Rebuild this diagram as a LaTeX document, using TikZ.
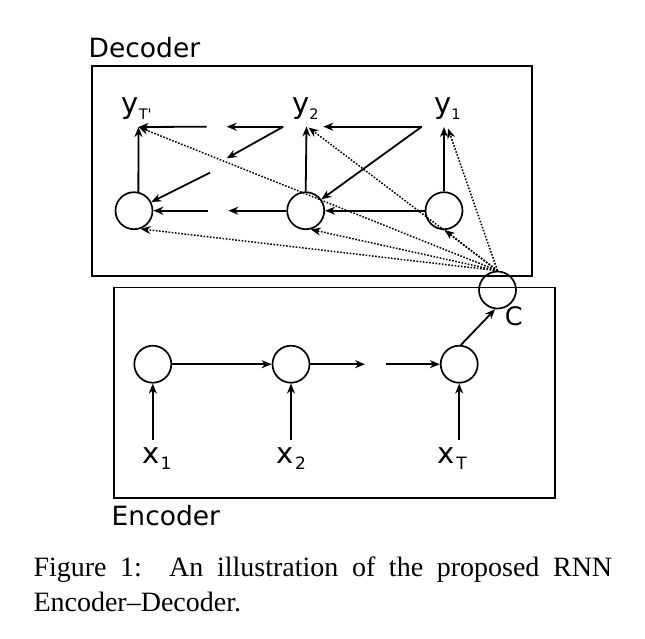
\documentclass[tikz,border=0pt]{standalone}
\usepackage{fontspec}
\setmainfont{Liberation Serif}
\newfontfamily\dv[Ligatures=TeXOff]{DejaVu Sans}
\usetikzlibrary{arrows.meta}
\newcommand\declab[2]{{\fontsize{29pt}{29pt}\selectfont #1}\raisebox{-5.5pt}{\fontsize{14.5pt}{14.5pt}\selectfont #2}}
\newcommand\enclab[2]{{\fontsize{29pt}{29pt}\selectfont #1}\kern1.5pt\raisebox{-5.7pt}{\fontsize{17pt}{17pt}\selectfont #2}}
\begin{document}
\begin{tikzpicture}[x=1pt,y=-1pt,
  cell/.style={circle,draw,line width=1.7pt,minimum size=37pt,inner sep=0pt},
  frame/.style={draw,line width=1.5pt},
  tip/.style={-{Stealth[length=10pt,width=8pt,inset=3.2pt]}},
  arr/.style={tip,line width=1.8pt},
  heavy/.style={tip,line width=2.4pt},
  att/.style={tip,line width=1.5pt,dash pattern=on 1.6pt off 1.6pt},
  lab/.style={inner sep=0pt,anchor=base west,font=\dv}]
\fill[white] (0,0) rectangle (645,638);
\useasboundingbox (0,0) rectangle (645,638);

% frames
\draw[frame] (92,66) rectangle (532,276);
\draw[frame] (114,287.5) rectangle (555,498);
\node[lab] (declbl) at (88.5,57.3) {\fontsize{26.5pt}{26.5pt}\selectfont Decoder};
\node[lab] (enclbl) at (111.5,525) {\fontsize{26.5pt}{26.5pt}\selectfont Encoder};

% cells
\node[cell] (hT) at (134,210.7) {};
\node[cell] (h2) at (305.7,210.7) {};
\node[cell] (h1) at (444,210.7) {};
\node[cell] (c) at (497.5,290) {};
\node[cell] (e1) at (152.8,364.2) {};
\node[cell] (e2) at (291,364.2) {};
\node[cell] (eT) at (459.2,364.2) {};

% labels
\node[lab] (cl) at (504.6,325.7) {\fontsize{25.5pt}{25.5pt}\selectfont C};
\node[lab] (yTl) at (121.5,113.5) {\declab{y}{T'}};
\node[lab] (y2l) at (292,113.5) {\declab{y}{2}};
\node[lab] (y1l) at (434,113.5) {\declab{y}{1}};
\node[lab] (x1l) at (141.8,463.3) {\enclab{x}{1}};
\node[lab] (x2l) at (276.2,463.3) {\enclab{x}{2}};
\node[lab] (xTl) at (437.4,463.3) {\enclab{x}{T}};

% arrow end points
\coordinate (yTa) at (138.5,127);
\coordinate (y2v) at (306.5,126.5);
\coordinate (y2h) at (323.3,126.7);
\coordinate (y2d) at (308.5,127.5);
\coordinate (y1v) at (444,127);
\coordinate (y1d) at (448,128.5);
\coordinate (y1s) at (421.7,126.7);
\coordinate (g1) at (283.3,126.7);
\coordinate (g2) at (226.7,126.7);
\coordinate (g3) at (226.7,158.3);
\coordinate (g4) at (206.7,126.7);
\coordinate (g5) at (210,172.7);
\coordinate (g6) at (228.3,210.7);
\coordinate (g7) at (208.3,210.7);
\coordinate (k1) at (365,364.2);
\coordinate (k2) at (386,364.2);
\coordinate (x1s) at (152.8,440);
\coordinate (x2s) at (291,440);
\coordinate (xTs) at (459.2,440);

% decoder
\draw[arr] (hT.77) -- (yTa);
\draw[arr] (h2.north) -- (y2v);
\draw[arr] (h1.north) -- (y1v);
\draw[arr] (y1s) -- (y2h);
\draw[arr] (y1s) -- (h2);
\draw[heavy] (h1) -- (h2);
\draw[arr] (g1) -- (g2);
\draw[arr] (g1) -- (g3);
\draw[arr] (g4) -- (yTa);
\draw[arr] (g5) -- (hT);
\draw[arr] (h2) -- (g6);
\draw[arr] (g7) -- (hT);

% attention / context
\draw[att] (c.north) -- (yTa);
\draw[att] (c.north) -- (hT.290);
\draw[att] (c.north) -- (y2d);
\draw[att] (c.north) -- (h2.285);
\draw[att] (c.north) -- (y1d);
\draw[att] (c.north) -- (h1.272);

% encoder
\draw[heavy] (e1) -- (e2);
\draw[arr] (e2) -- (k1);
\draw[arr] (k2) -- (eT);
\draw[arr] (x1s) -- (e1);
\draw[arr] (x2s) -- (e2);
\draw[arr] (xTs) -- (eT);
\draw[arr] (eT.85) -- (c.263);

% caption
\node[inner sep=0pt,anchor=base west] (cap1) at (33.3,576.7) {\fontsize{28pt}{28pt}\selectfont\makebox[578.7pt][s]{Figure 1:\ \ An illustration of the proposed RNN}};
\node[inner sep=0pt,anchor=base west] (cap2) at (33.3,611.7) {\fontsize{28pt}{28pt}\selectfont Encoder--Decoder.};
\end{tikzpicture}
\end{document}
